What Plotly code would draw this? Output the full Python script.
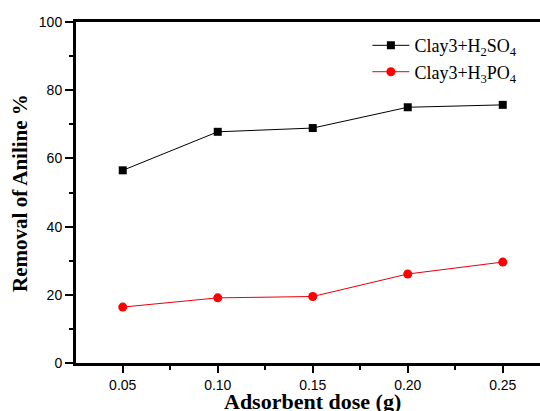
import plotly.graph_objects as go

# Adsorbent dose (g) and aniline removal (%) for the two acid-treated clays
dose = [0.05, 0.10, 0.15, 0.20, 0.25]
removal_h2so4 = [56.5, 67.8, 68.9, 75.0, 75.7]
removal_h3po4 = [16.4, 19.1, 19.5, 26.1, 29.6]

x_ticks = [0.05, 0.10, 0.15, 0.20, 0.25]
x_tick_labels = ["0.05", "0.10", "0.15", "0.20", "0.25"]

x_title = "Adsorbent dose (g)"
y_title = "Removal of Aniline %"

fig = go.Figure()
fig.add_trace(go.Scatter(
    x=dose, y=removal_h2so4, mode="lines+markers",
    name="Clay3+H<sub>2</sub>SO<sub>4</sub>",
    line=dict(color="black", width=1),
    marker=dict(symbol="square", size=8, color="black"),
))
fig.add_trace(go.Scatter(
    x=dose, y=removal_h3po4, mode="lines+markers",
    name="Clay3+H<sub>3</sub>PO<sub>4</sub>",
    line=dict(color="#e8000b", width=1),
    marker=dict(symbol="circle", size=9, color="#ff0000"),
))

tick_font = dict(family="Liberation Sans, Arial", size=14, color="black")
serif = "Liberation Serif, Times New Roman"

fig.update_layout(
    width=540, height=411,
    margin=dict(l=76, r=0, t=22, b=48),
    paper_bgcolor="white", plot_bgcolor="white",
    showlegend=True,
    legend=dict(
        x=0.628, y=0.985, xanchor="left", yanchor="top",
        bgcolor="rgba(0,0,0,0)", borderwidth=0,
        font=dict(family=serif, size=18, color="black"),
        tracegroupgap=0, itemwidth=37,
    ),
    xaxis=dict(
        range=[0.0254, 0.2696], automargin=False,
        tickvals=x_ticks, ticktext=x_tick_labels,
        ticks="outside", ticklen=7, tickwidth=1.5, tickcolor="black",
        minor=dict(dtick=0.05, tick0=0.025, ticks="outside", ticklen=4,
                   tickwidth=1.5, tickcolor="black"),
        showline=True, linewidth=3, linecolor="black", mirror=True,
        showgrid=False, zeroline=False,
        tickfont=tick_font,
    ),
    yaxis=dict(
        range=[0, 100], automargin=False,
        tick0=0, dtick=20,
        ticks="outside", ticklen=8, tickwidth=1.5, tickcolor="black",
        minor=dict(dtick=10, ticks="outside", ticklen=4, tickwidth=1.5, tickcolor="black"),
        showline=True, linewidth=3, linecolor="black", mirror=False,
        showgrid=False, zeroline=False,
        tickfont=tick_font,
    ),
    annotations=[
        dict(text="<b>%s</b>" % x_title, xref="paper", yref="paper",
             x=0.51, y=-0.113, xanchor="center", yanchor="middle", showarrow=False,
             font=dict(family=serif, size=22, color="black")),
        dict(text="<b>%s</b>" % y_title, xref="paper", yref="paper",
             x=-0.122, y=0.5, xanchor="center", yanchor="middle", showarrow=False,
             textangle=-90, font=dict(family=serif, size=21, color="black")),
    ],
)

fig.write_html("out.html")
